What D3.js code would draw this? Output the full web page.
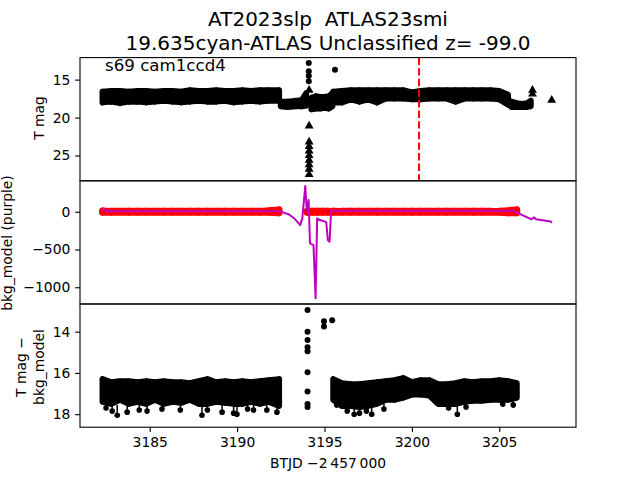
<!DOCTYPE html>
<html><head><meta charset="utf-8">
<script src="https://cdn.jsdelivr.net/npm/d3@7"></script>
<style>body{margin:0;background:#fff} svg{display:block} text{font-family:"DejaVu Sans",sans-serif}</style>
</head><body><svg id="c" width="640" height="480"></svg>
<script>
// ---------------- data ----------------
const titleLines = ["AT2023slp  ATLAS23smi", "19.635cyan-ATLAS Unclassified z= -99.0"];
const panelNote = "s69 cam1ccd4";
const xTicks = [3185, 3190, 3195, 3200, 3205];
const topTicks = [15, 20, 25];
const midTicks = [0, -500, -1000];
const botTicks = [14, 16, 18];
const markerTime = 3200.41;

const tA = [3182.3,3182.8,3183.3,3183.8,3184.3,3184.8,3185.3,3185.8,3186.3,3186.8,3187.3,3187.8,3188.3,3188.8,3189.3,3189.8,3190.3,3190.8,3191.3,3191.8,3192.4];
const tB = [3192.5,3192.9,3193.3,3193.7,3193.95];
const tC = [3194.25,3194.5,3194.75,3195.0,3195.25,3195.45];
const tD = [3195.5,3196.0,3196.5,3197.0,3197.5,3198.0,3198.5,3199.0,3199.5,3200.0,3200.5,3201.0,3201.5,3202.0,3202.5,3203.0,3203.5,3204.0,3204.5,3205.0,3205.5];
const tE = [3205.7,3206.0,3206.3,3206.6,3206.8];
const tD2 = [3195.5,3196.0,3196.5,3197.0,3197.5,3198.0,3198.5,3199.0,3199.5,3200.0,3200.5,3201.0,3201.5,3202.0,3202.5,3203.0,3203.5,3204.0,3204.5,3205.0,3205.5,3206.0];

// top panel: T mag band (bright / faint envelope)
const topHiA = [16.6,16.5,16.5,16.6,16.5,16.5,16.6,16.5,16.5,16.6,16.4,16.5,16.5,16.4,16.5,16.5,16.4,16.5,16.4,16.4,16.4];
const topLoA = [18.0,17.9,18.1,17.9,17.9,18.0,17.9,17.8,17.9,18.0,17.9,17.8,17.9,17.9,17.8,18.0,17.9,17.8,17.9,17.8,17.8];
const topHiB = [17.9,17.9,17.8,17.7,16.8];
const topLoB = [18.5,18.6,18.5,18.5,18.4];
const topHiC = [17.4,17.2,17.3,17.3,17.2,16.8];
const topLoC = [18.9,18.8,18.8,18.7,18.8,18.5];
const topHiD = [16.6,16.5,16.4,16.4,16.4,16.4,16.4,16.4,16.4,16.7,16.5,16.4,16.4,16.4,16.4,16.4,16.4,16.4,16.4,16.5,17.0];
const topLoD = [18.0,18.0,17.6,17.9,17.6,18.0,17.5,17.5,17.5,17.6,17.6,17.5,17.5,17.5,17.9,17.5,17.5,17.5,17.5,17.6,18.3];
const topHiE = [17.9,18.1,18.2,18.1,17.8];
const topLoE = [18.6,18.6,18.6,18.6,18.5];
const topDotT = [3194.1,3194.1,3194.1,3194.1,3195.6];
const topDotMag = [12.8,13.9,14.5,15.2,13.7];
const topTriT = [3194.12,3194.12,3194.12,3194.12,3194.12,3194.12,3194.12,3194.12,3194.12,3194.12,3206.9,3206.9,3208.0];
const topTriMag = [16.4,21.1,23.2,23.8,24.4,25.0,25.6,26.2,26.8,27.5,16.4,16.9,17.7];

// middle panel: residual flux (red) and bkg_model (purple)
const redTA = tA;
const redHiA = [10,5,5,5,5,5,5,5,5,5,5,5,5,5,5,5,5,5,5,12,25];
const redLoA = [-8,-5,-5,-5,-5,-5,-5,-5,-5,-5,-5,-5,-5,-5,-5,-5,-5,-5,-5,-8,-12];
const redTD = [3194.0,3194.3,3194.6,3194.9,3195.2,3195.5,3196.0,3196.5,3197.0,3197.5,3198.0,3198.5,3199.0,3199.5,3200.0,3200.5,3201.0,3201.5,3202.0,3202.5,3203.0,3203.5,3204.0,3204.5,3205.0,3205.5,3206.0];
const redHiD = [5,5,5,5,5,8,5,5,5,5,5,5,5,5,5,5,5,5,5,5,5,5,5,5,8,15,25];
const redLoD = [-6,-6,-6,-6,-6,-6,-5,-5,-5,-5,-5,-5,-5,-5,-5,-5,-5,-5,-5,-5,-5,-5,-5,-5,-8,-12,-12];
const purpleT = [3182.28,3182.5,3192.47,3193.0,3193.3,3193.61,3193.73,3193.90,3193.99,3194.09,3194.17,3194.37,3194.49,3194.58,3194.75,3195.10,3195.19,3195.29,3195.38,3195.5,3205.8,3206.85,3207.0,3207.1,3207.95,3208.0];
const purpleV = [45,8,5,-40,-95,-177,-84,341,0,155,-420,-442,-1146,-88,-110,-137,-376,-398,22,12,12,-100,-75,-100,-130,-150];

// bottom panel: T mag - bkg_model
const botHiA = [16.3,16.45,16.4,16.4,16.45,16.4,16.45,16.4,16.45,16.45,16.5,16.4,16.3,16.45,16.4,16.45,16.4,16.45,16.4,16.35,16.3];
const botLoA = [17.4,17.5,17.3,17.5,17.4,17.5,17.3,17.5,17.4,17.45,17.3,17.5,17.5,17.4,17.45,17.5,17.5,17.4,17.5,17.4,17.6];
const botHiD = [16.3,16.5,16.55,16.55,16.5,16.45,16.4,16.35,16.25,16.45,16.35,16.35,16.55,16.55,16.5,16.4,16.45,16.4,16.4,16.35,16.4,16.5];
const botLoD = [17.3,17.6,17.6,17.65,17.6,17.5,17.3,17.3,17.2,17.05,17.05,17.1,17.5,17.5,17.5,17.4,17.35,17.35,17.3,17.3,17.3,17.2];
const botDipT = [3182.5,3182.85,3183.14,3183.71,3184.4,3184.85,3185.7,3186.75,3187.99,3188.3,3189.14,3189.8,3189.99,3190.6,3190.94,3191.7,3192.28,3195.7,3196.3,3196.7,3197.0,3197.4,3197.7,3198.4,3202.1,3202.6,3203.1,3205.2,3205.8];
const botDipMag = [17.7,17.85,18.05,17.9,17.8,17.85,17.75,17.8,18.05,17.8,17.9,17.95,18.0,17.75,17.8,17.8,17.9,17.55,17.85,18.0,17.95,17.85,18.0,17.75,17.7,18.0,17.65,17.5,17.55];
const botSpikeT = [3194.03,3194.03,3194.03,3194.03,3194.03,3194.03,3194.03,3194.03,3194.03,3194.97,3194.97,3195.44];
const botSpikeMag = [12.95,14.0,14.4,14.75,14.95,15.97,16.9,17.5,17.65,13.5,13.75,13.45];

// ---------------- drawing ----------------
const svg = d3.select("#c");
const L = 80, R = 576;
const P = [[57.6,180.8],[180.8,304],[304,427.2]];
const FS = 13.89;
const x = d3.scaleLinear().domain([3181.01, 3209.39]).range([L, R]);
const yTop = d3.scaleLinear().domain([12.1, 28.33]).range(P[0]);
const yMid = d3.scaleLinear().domain([410, -1222]).range(P[1]);
const yBot = d3.scaleLinear().domain([12.66, 18.63]).range(P[2]);

function clip(id, p) {
  svg.append("clipPath").attr("id", id).append("rect")
    .attr("x", L).attr("y", p[0]).attr("width", R - L).attr("height", p[1] - p[0]);
}
clip("c0", P[0]); clip("c1", P[1]); clip("c2", P[2]);
const g0 = svg.append("g").attr("clip-path", "url(#c0)");
const g1 = svg.append("g").attr("clip-path", "url(#c1)");
const g2 = svg.append("g").attr("clip-path", "url(#c2)");

function band(g, ts, hi, lo, y, color, r) {
  const pts = ts.map((t, i) => ({t, hi: hi[i], lo: lo[i]}));
  const area = d3.area().x(d => x(d.t)).y0(d => y(d.hi)).y1(d => y(d.lo));
  g.append("path").attr("d", area(pts)).attr("fill", color)
    .attr("stroke", color).attr("stroke-width", 2 * r).attr("stroke-linejoin", "round");
  g.selectAll(null).data(pts).enter().append("line")
    .attr("x1", d => x(d.t)).attr("x2", d => x(d.t))
    .attr("y1", d => y(d.hi) - r).attr("y2", d => y(d.lo) + r)
    .attr("stroke", color).attr("stroke-width", 1.5);
}
function dots(g, ts, vs, y, color, r, errUp, errDn) {
  const pts = ts.map((t, i) => ({t, v: vs[i]}));
  if (errUp) {
    g.selectAll(null).data(pts).enter().append("line")
      .attr("x1", d => x(d.t)).attr("x2", d => x(d.t))
      .attr("y1", d => y(d.v - errUp)).attr("y2", d => y(d.v + errDn))
      .attr("stroke", color).attr("stroke-width", 1.5);
  }
  g.selectAll(null).data(pts).enter().append("circle")
    .attr("cx", d => x(d.t)).attr("cy", d => y(d.v)).attr("r", r).attr("fill", color);
}
function tris(g, ts, vs, y, color) {
  const sym = d3.symbol(d3.symbolTriangle, 34)();
  g.selectAll(null).data(ts.map((t, i) => ({t, v: vs[i]}))).enter().append("path")
    .attr("d", sym).attr("transform", d => `translate(${x(d.t)},${y(d.v)})`).attr("fill", color);
}

// top panel
band(g0, tA, topHiA, topLoA, yTop, "#000", 3);
band(g0, tB, topHiB, topLoB, yTop, "#000", 3);
band(g0, tC, topHiC, topLoC, yTop, "#000", 3);
band(g0, tD, topHiD, topLoD, yTop, "#000", 3);
band(g0, tE, topHiE, topLoE, yTop, "#000", 3);
dots(g0, topDotT, topDotMag, yTop, "#000", 3);
tris(g0, topTriT, topTriMag, yTop, "#000");
g0.append("line").attr("x1", x(markerTime)).attr("x2", x(markerTime))
  .attr("y1", P[0][0]).attr("y2", P[0][1])
  .attr("stroke", "#ff0000").attr("stroke-width", 2).attr("stroke-dasharray", "7.4,3.2");

// middle panel
band(g1, redTA, redHiA, redLoA, yMid, "#ff0000", 3.5);
band(g1, redTD, redHiD, redLoD, yMid, "#ff0000", 3.5);
const pline = d3.line().x(d => x(d[0])).y(d => yMid(d[1]));
g1.append("path").attr("d", pline(purpleT.map((t, i) => [t, purpleV[i]])))
  .attr("fill", "none").attr("stroke", "#bf00bf").attr("stroke-width", 2).attr("stroke-linejoin", "round");

// bottom panel
band(g2, tA, botHiA, botLoA, yBot, "#000", 3);
band(g2, tD2, botHiD, botLoD, yBot, "#000", 3);
dots(g2, botDipT, botDipMag, yBot, "#000", 2.8, 0.5, 0.12);
dots(g2, botSpikeT, botSpikeMag, yBot, "#000", 3);

// frames & axes
P.forEach(p => {
  svg.append("rect").attr("x", L).attr("y", p[0]).attr("width", R - L).attr("height", p[1] - p[0])
    .attr("fill", "none").attr("stroke", "#000").attr("stroke-width", 1.1);
});
function styleAxis(sel) {
  sel.select(".domain").remove();
  sel.selectAll(".tick line").attr("stroke", "#000").attr("stroke-width", 1.1);
  sel.selectAll(".tick text").attr("fill", "#000").style("font-size", FS + "px")
    .style("font-family", "'DejaVu Sans', sans-serif");
}
function yAxis(scale, ticks) {
  svg.append("g").attr("transform", `translate(${L},0)`)
    .call(d3.axisLeft(scale).tickValues(ticks).tickSize(4.86).tickPadding(4.86).tickFormat(d3.format("d")))
    .call(styleAxis);
}
yAxis(yTop, topTicks); yAxis(yMid, midTicks); yAxis(yBot, botTicks);
svg.append("g").attr("transform", `translate(0,${P[2][1]})`)
  .call(d3.axisBottom(x).tickValues(xTicks).tickSize(4.86).tickPadding(4.86).tickFormat(d3.format("d")))
  .call(styleAxis);

// texts
svg.append("text").attr("x", 328).attr("y", 26).attr("text-anchor", "middle")
  .style("font-size", "20px").style("white-space", "pre").text(titleLines[0]);
svg.append("text").attr("x", 328).attr("y", 49.5).attr("text-anchor", "middle")
  .style("font-size", "20px").style("white-space", "pre").text(titleLines[1]);
svg.append("text").attr("x", 105).attr("y", 70.5).style("font-size", "16.67px").text(panelNote);

function ylab(tx, ty, s) {
  svg.append("text").attr("transform", `translate(${tx},${ty}) rotate(-90)`)
    .attr("text-anchor", "middle").style("font-size", FS + "px").text(s);
}
ylab(43.5, 118, "T mag");
ylab(11.5, 243, "bkg_model (purple)");
ylab(25.5, 367, "T mag \u2212");
ylab(43.5, 367, "bkg_model");
svg.append("text").attr("x", 328).attr("y", 468).attr("text-anchor", "middle")
  .style("font-size", FS + "px").text("BTJD \u22122\u2009457\u2009000");
</script></body></html>
